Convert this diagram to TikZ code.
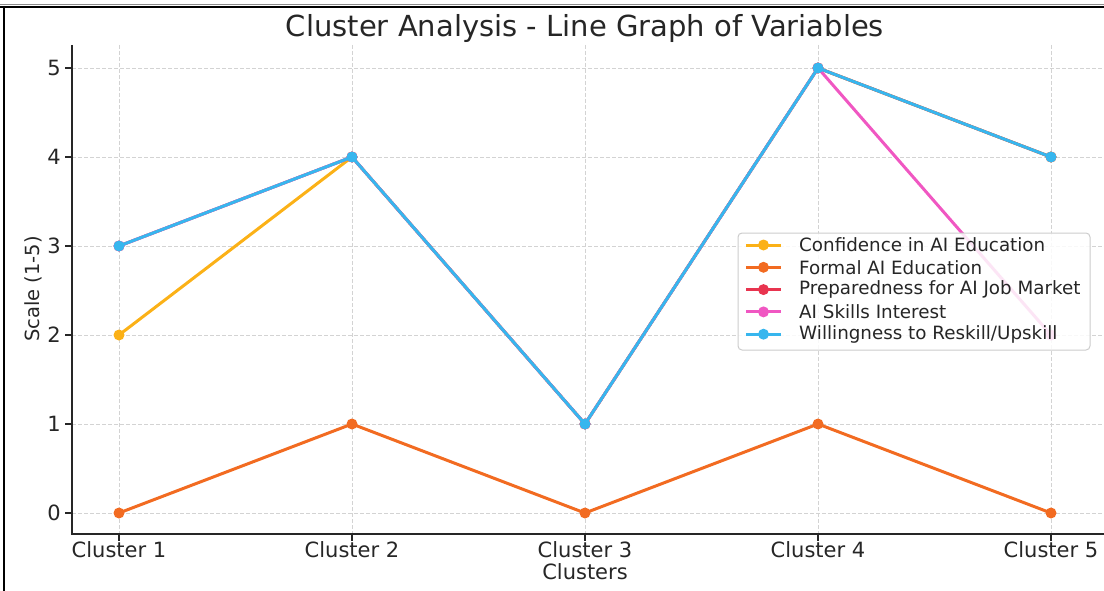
\documentclass[tikz,border=0pt]{standalone}
\usepackage{fontspec}
\setmainfont{DejaVu Sans}
\definecolor{cconf}{HTML}{FBB117}
\definecolor{cform}{HTML}{F26B21}
\definecolor{cprep}{HTML}{E8344F}
\definecolor{cskill}{HTML}{F057C2}
\definecolor{cwill}{HTML}{37B6EE}
\definecolor{cgrid}{HTML}{D3D3D3}
\definecolor{ctext}{HTML}{262626}
\begin{document}
\begin{tikzpicture}[x=1pt,y=-1pt,
  gridline/.style={cgrid,line width=0.9pt,dash pattern=on 4pt off 2pt},
  spine/.style={ctext,line width=1.8pt},
  tickmark/.style={ctext,line width=1.5pt},
  series/.style={line width=3pt,line join=round},
  ticklab/.style={text=ctext,font=\fontsize{21}{23}\selectfont,inner sep=0pt},
  leglab/.style={text=ctext,font=\fontsize{18.3}{20}\selectfont,anchor=west,inner sep=0pt},
]
\useasboundingbox (0,0) rectangle (1104,591);
% outer frame lines (screenshot edges)
\draw[black!45,line width=1pt] (0,4.5) -- (1104,4.5);
\draw[black,line width=2.2pt] (0,7) -- (1104,7);
\draw[black,line width=2.2pt] (4,6) -- (4,591);
% title
\node[text=ctext,font=\fontsize{29}{31}\selectfont,inner sep=0pt] (title) at (585,29) {Cluster Analysis - Line Graph of Variables};
% grid
\foreach \i in {0,...,4} {
  \draw[gridline] ({119+233*\i},45) -- ({119+233*\i},534);
}
\foreach \v in {0,...,5} {
  \draw[gridline] (72,{513-89*\v}) -- (1104,{513-89*\v});
}
% spines
\draw[spine] (72,45) -- (72,534) -- (1104,534);
% ticks and labels
\foreach \i in {1,...,5} {
  \draw[tickmark] ({119+233*(\i-1)},534) -- ({119+233*(\i-1)},541);
  \node[ticklab] (xl\i) at ({119+233*(\i-1)},550) {Cluster \i};
}
\foreach \v in {0,...,5} {
  \draw[tickmark] (72,{513-89*\v}) -- (65,{513-89*\v});
  \node[ticklab,anchor=east] (yl\v) at (61,{513-89*\v}) {\v};
}
\node[ticklab] (xlab) at (585,572) {Clusters};
\node[ticklab,rotate=90,font=\fontsize{19.5}{21}\selectfont] (ylab) at (33,289) {Scale (1-5)};
% series
\newcommand\series[6]{%
  \draw[series,#1] (119,{513-89*#2}) -- (352,{513-89*#3}) -- (585,{513-89*#4}) -- (818,{513-89*#5}) -- (1051,{513-89*#6});
  \foreach \xx/\vv in {119/#2,352/#3,585/#4,818/#5,1051/#6} { \fill[#1] (\xx,{513-89*\vv}) circle (5.5); }
}
\series{cconf}{2}{4}{1}{5}{4}
\series{cform}{0}{1}{0}{1}{0}
\series{cprep}{3}{4}{1}{5}{4}
\series{cskill}{3}{4}{1}{5}{2}
\series{cwill}{3}{4}{1}{5}{4}
% legend
\draw[fill=white,fill opacity=0.85,draw=black!20,line width=1pt,rounded corners=4pt] (738,233) rectangle (1090,350);
\foreach \c/\t [count=\k from 0] in {cconf/{Confidence in AI Education},cform/{Formal AI Education},cprep/{Preparedness for AI Job Market},cskill/{AI Skills Interest},cwill/{Willingness to Reskill/Upskill}} {
  \draw[series,\c] (746,{245+22.3*\k}) -- (781,{245+22.3*\k});
  \fill[\c] (763.5,{245+22.3*\k}) circle (5.5);
  \node[leglab] (leg\k) at (799,{245+22.3*\k}) {\t};
}
\end{tikzpicture}
\end{document}
